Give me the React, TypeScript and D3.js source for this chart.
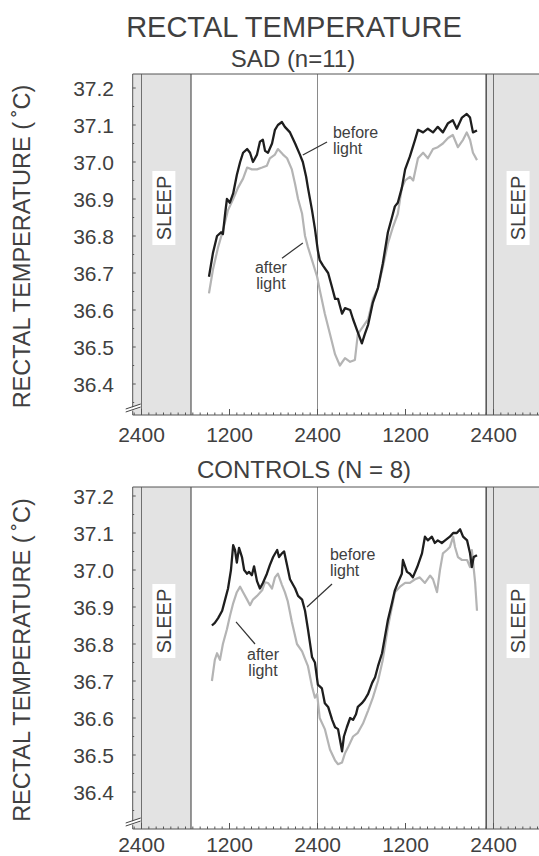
import React from "react";
import * as d3 from "d3";

// ---- data (hour of recording from first midnight, rectal temperature °C) ----
const sadBefore: [number, number][] = [
  [9.2, 36.69], [9.75, 36.755], [10.3, 36.8], [10.85, 36.81], [11.1, 36.805], [11.4, 36.86], [11.65, 36.9],
  [12.05, 36.89], [12.5, 36.915], [13.0, 36.965], [13.45, 37.0], [13.85, 37.025], [14.4, 37.035], [14.8, 37.025],
  [15.2, 37.0], [15.75, 37.02], [16.15, 37.055], [16.55, 37.06], [16.85, 37.03], [17.25, 37.025], [17.8, 37.05],
  [18.2, 37.087], [18.6, 37.1], [19.15, 37.108], [19.55, 37.095], [20.25, 37.08], [20.95, 37.05], [21.6, 37.02],
  [22.0, 37.0], [22.45, 36.96], [22.7, 36.93], [23.25, 36.87], [23.65, 36.82], [24.05, 36.76], [24.3, 36.735],
  [24.75, 36.72], [25.45, 36.7], [26.0, 36.66], [26.4, 36.63], [26.8, 36.63], [27.35, 36.59], [27.75, 36.605],
  [28.45, 36.6], [28.85, 36.575], [29.4, 36.545], [30.05, 36.51], [30.45, 36.535], [30.9, 36.56], [31.55, 36.62],
  [32.25, 36.66], [32.9, 36.725], [33.6, 36.81], [34.15, 36.85], [34.55, 36.88], [34.95, 36.89], [35.5, 36.93],
  [35.95, 36.98], [36.6, 37.015], [37.3, 37.06], [37.7, 37.087], [38.4, 37.08], [39.05, 37.09], [39.75, 37.08],
  [40.4, 37.095], [41.1, 37.08], [41.8, 37.105], [42.45, 37.113], [43.0, 37.09], [43.7, 37.12], [44.35, 37.13],
  [44.8, 37.12], [45.2, 37.08], [45.75, 37.085],
];
const sadAfter: [number, number][] = [
  [9.2, 36.645], [9.75, 36.71], [10.45, 36.77], [11.1, 36.815], [11.8, 36.87], [12.5, 36.9], [13.15, 36.93],
  [13.85, 36.955], [14.4, 36.985], [15.05, 36.98], [15.75, 36.98], [16.45, 36.985], [17.1, 36.99], [17.5, 37.01],
  [18.2, 37.02], [18.6, 37.035], [19.3, 37.02], [19.85, 37.01], [20.5, 36.98], [20.95, 36.94], [21.35, 36.9],
  [21.9, 36.86], [22.3, 36.8], [22.7, 36.77], [23.25, 36.735], [23.95, 36.69], [24.3, 36.655], [25.0, 36.59],
  [25.7, 36.535], [26.4, 36.48], [27.05, 36.45], [27.75, 36.47], [28.45, 36.46], [29.1, 36.465], [29.5, 36.535],
  [30.2, 36.555], [30.9, 36.575], [31.55, 36.63], [32.25, 36.66], [32.9, 36.715], [33.6, 36.78], [34.3, 36.825],
  [34.95, 36.86], [35.5, 36.93], [35.95, 36.95], [36.6, 36.96], [37.05, 36.95], [37.7, 37.01], [38.4, 37.025],
  [39.05, 37.01], [39.75, 37.035], [40.4, 37.04], [41.1, 37.05], [41.8, 37.065], [42.45, 37.073], [43.15, 37.04],
  [43.85, 37.06], [44.35, 37.08], [44.8, 37.06], [45.2, 37.025], [45.75, 37.005],
];
const ctlBefore: [number, number][] = [
  [9.6, 36.85], [10.0, 36.857], [10.45, 36.87], [11.0, 36.89], [11.4, 36.92], [11.8, 36.95], [12.2, 37.0],
  [12.5, 37.067], [12.75, 37.054], [13.0, 37.02], [13.3, 37.06], [13.7, 37.035], [14.0, 37.0], [14.4, 36.99],
  [14.65, 36.995], [15.05, 36.986], [15.35, 37.01], [15.75, 36.97], [16.15, 36.95], [16.55, 36.965], [17.1, 36.99],
  [17.5, 37.013], [17.95, 37.035], [18.5, 37.054], [18.75, 37.035], [19.15, 37.045], [19.45, 37.05], [19.85, 37.013],
  [20.25, 36.975], [20.95, 36.95], [21.35, 36.93], [21.9, 36.92], [22.3, 36.89], [22.7, 36.84], [23.25, 36.765],
  [23.65, 36.75], [24.05, 36.69], [24.6, 36.68], [25.0, 36.64], [25.45, 36.63], [26.0, 36.595], [26.4, 36.575],
  [26.8, 36.57], [27.35, 36.51], [27.6, 36.55], [28.0, 36.575], [28.45, 36.6], [28.85, 36.595], [29.25, 36.61],
  [29.5, 36.63], [30.05, 36.64], [30.45, 36.65], [30.9, 36.665], [31.45, 36.695], [31.85, 36.71], [32.25, 36.74],
  [32.8, 36.775], [33.2, 36.82], [33.6, 36.865], [34.15, 36.91], [34.55, 36.945], [34.95, 36.965], [35.5, 36.99],
  [35.65, 37.027], [36.2, 36.995], [36.6, 36.99], [37.0, 36.98], [37.6, 37.008], [38.25, 37.045], [38.65, 37.09],
  [39.05, 37.08], [39.6, 37.09], [40.0, 37.073], [40.4, 37.08], [40.95, 37.073], [41.4, 37.08], [42.05, 37.09],
  [42.5, 37.1], [43.0, 37.1], [43.45, 37.11], [43.85, 37.09], [44.4, 37.08], [44.8, 37.045], [45.05, 37.008],
  [45.3, 37.035], [45.75, 37.04],
];
const ctlAfter: [number, number][] = [
  [9.6, 36.7], [10.0, 36.757], [10.3, 36.775], [10.7, 36.757], [11.1, 36.8], [11.65, 36.84], [12.05, 36.875],
  [12.5, 36.91], [13.0, 36.94], [13.45, 36.955], [13.85, 36.94], [14.4, 36.92], [14.8, 36.905], [15.2, 36.92],
  [15.75, 36.93], [16.45, 36.945], [16.85, 36.967], [17.25, 36.965], [17.8, 36.95], [18.2, 36.98], [18.6, 36.99],
  [19.15, 36.96], [19.55, 36.94], [19.95, 36.915], [20.5, 36.86], [21.2, 36.8], [21.9, 36.78], [22.3, 36.76],
  [22.7, 36.74], [23.25, 36.685], [23.65, 36.655], [23.95, 36.665], [24.3, 36.6], [25.0, 36.57], [25.7, 36.515],
  [26.4, 36.485], [26.8, 36.475], [27.35, 36.48], [27.75, 36.505], [28.15, 36.52], [28.85, 36.55], [29.5, 36.56],
  [30.2, 36.585], [30.9, 36.62], [31.55, 36.655], [32.25, 36.7], [32.9, 36.757], [33.6, 36.845], [34.15, 36.9],
  [34.55, 36.94], [35.25, 36.955], [35.95, 36.965], [36.6, 36.965], [37.3, 36.975], [37.95, 36.98], [38.65, 36.965],
  [39.35, 36.985], [39.75, 36.975], [40.3, 36.94], [40.7, 37.0], [41.1, 37.045], [41.65, 37.054], [42.05, 37.062],
  [42.5, 37.09], [42.75, 37.062], [43.15, 37.035], [43.7, 37.027], [44.4, 37.027], [44.8, 37.008], [45.05, 37.054],
  [45.5, 36.965], [45.75, 36.89],
];

const yTicks = [36.4, 36.5, 36.6, 36.7, 36.8, 36.9, 37.0, 37.1, 37.2];
const xTickHours = [0, 12, 24, 36, 48];
const xTickLabels = ["2400", "1200", "2400", "1200", "2400"];
const sleepPeriods: [number, number][] = [[-1.2, 6.75], [47, 60]];
const mainTitle = "RECTAL TEMPERATURE";
const yLabel = "RECTAL TEMPERATURE (\u2009\u02DAC)";

const FONT = "'Liberation Sans', Arial, Helvetica, sans-serif";
const TXT = "#404040";

type Ann = { text: [string, string]; at: [number, number]; anchor: string; line: [number, number, number, number] };

const panels = [
  {
    title: "SAD (n=11)", titleX: 293, titleY: 67,
    top: 74, bottom: 415, yTop: 88, yBottom: 384, labelGap: 27,
    before: sadBefore, after: sadAfter,
    anns: [
      { text: ["before", "light"], at: [26.1, 37.065], anchor: "start", line: [22.0, 37.019, 25.3, 37.054] },
      { text: ["after", "light"], at: [17.65, 36.7], anchor: "middle", line: [19.16, 36.74, 22.0, 36.781] },
    ] as Ann[],
  },
  {
    title: "CONTROLS (N = 8)", titleX: 304, titleY: 478,
    top: 487, bottom: 829, yTop: 496, yBottom: 792, labelGap: 23,
    before: ctlBefore, after: ctlAfter,
    anns: [
      { text: ["before", "light"], at: [25.7, 37.027], anchor: "start", line: [22.57, 36.9, 25.98, 36.962] },
      { text: ["after", "light"], at: [16.57, 36.757], anchor: "middle", line: [12.89, 36.86, 15.48, 36.8] },
    ] as Ann[],
  },
];

const W = 539;
const H = 856;
const x = d3.scaleLinear().domain([0, 48]).range([141.5, 493.5]);
const FRAME_L_HOUR = -1.2;

function Panel({ p }: { p: (typeof panels)[number] }) {
  const y = d3.scaleLinear().domain([36.4, 37.2]).range([p.yBottom, p.yTop]);
  const left = x(FRAME_L_HOUR);
  const right = W + 20;
  const line = d3
    .line<[number, number]>()
    .x((d) => x(d[0]))
    .y((d) => y(d[1]))
    .curve(d3.curveLinear);
  const hours = d3.range(-1, 56, 1);
  const minorY = d3.range(36.35, 37.23, 0.05);
  const midY = (p.top + p.bottom) / 2 + 2;
  const sleepY = p.top + 134;
  return (
    <g>
      {sleepPeriods.map((s, i) => (
        <rect key={i} x={Math.max(left, x(s[0]))} y={p.top} width={Math.min(right, x(s[1])) - Math.max(left, x(s[0]))}
          height={p.bottom - p.top} fill="#e3e3e3" />
      ))}
      <line x1={x(sleepPeriods[0][1])} x2={x(sleepPeriods[0][1])} y1={p.top} y2={p.bottom} stroke="#555" strokeWidth={1.2} />
      <line x1={x(sleepPeriods[1][0])} x2={x(sleepPeriods[1][0])} y1={p.top} y2={p.bottom} stroke="#444" strokeWidth={1.4} />
      {[0, 24, 48].map((h) => (
        <line key={h} x1={x(h)} x2={x(h)} y1={p.top} y2={p.bottom} stroke={h === 24 ? "#8a8a8a" : "#707070"} strokeWidth={1} />
      ))}
      <line x1={left} x2={right} y1={p.top} y2={p.top} stroke="#555" strokeWidth={1} />
      <line x1={left} x2={left} y1={p.top} y2={p.bottom} stroke="#555" strokeWidth={1} />
      <line x1={left} x2={right} y1={p.bottom} y2={p.bottom} stroke="#555" strokeWidth={1.2} />
      {hours.map((h) => (
        <line key={h} x1={x(h)} x2={x(h)} y1={p.bottom} y2={p.bottom - (h % 12 === 0 ? 6 : 2.5)} stroke="#555" strokeWidth={1} />
      ))}
      {minorY.map((v, i) => (
        <line key={i} x1={left} x2={left + (i % 2 === 1 ? 3 : 1.5)} y1={y(v)} y2={y(v)} stroke="#555" strokeWidth={1} />
      ))}
      <line x1={left - 6} x2={left + 8} y1={p.bottom - 4} y2={p.bottom - 9} stroke="#fff" strokeWidth={3} />
      <line x1={left - 7} x2={left + 8} y1={p.bottom - 3} y2={p.bottom - 8} stroke="#444" strokeWidth={1} />
      <line x1={left - 7} x2={left + 8} y1={p.bottom - 6} y2={p.bottom - 11} stroke="#444" strokeWidth={1} />
      {yTicks.map((v) => (
        <text key={v} x={114} y={y(v)} dy="0.36em" textAnchor="end" fontSize={21} fill={TXT} fontFamily={FONT}>
          {v.toFixed(1)}
        </text>
      ))}
      {xTickHours.map((h, i) => (
        <text key={h} x={x(h)} y={p.bottom + p.labelGap} textAnchor="middle" fontSize={21} fill={TXT} fontFamily={FONT}>
          {xTickLabels[i]}
        </text>
      ))}
      <text transform={`translate(30,${midY}) rotate(-90)`} textAnchor="middle" fontSize={23.5} fill={TXT} fontFamily={FONT}>
        {yLabel}
      </text>
      {[3.05, 51.35].map((h) => (
        <g key={h} transform={`translate(${x(h)},${sleepY}) rotate(-90)`}>
          <rect x={-37} y={-11.5} width={74} height={23} fill="#fff" />
          <text x={0} y={0} dy="0.36em" textAnchor="middle" fontSize={20} fill={TXT} fontFamily={FONT}>SLEEP</text>
        </g>
      ))}
      <path d={line(p.after) || ""} fill="none" stroke="#b4b4b4" strokeWidth={2.2} strokeLinejoin="round" />
      <path d={line(p.before) || ""} fill="none" stroke="#1e1e1e" strokeWidth={2.3} strokeLinejoin="round" />
      {p.anns.map((a, i) => (
        <g key={i}>
          <line x1={x(a.line[0])} y1={y(a.line[1])} x2={x(a.line[2])} y2={y(a.line[3])} stroke="#333" strokeWidth={1.2} />
          <text x={x(a.at[0])} y={y(a.at[1])} textAnchor={a.anchor} fontSize={16} fill={TXT} fontFamily={FONT}>
            <tspan x={x(a.at[0])}>{a.text[0]}</tspan>
            <tspan x={x(a.at[0])} dy={16}>{a.text[1]}</tspan>
          </text>
        </g>
      ))}
      <text x={p.titleX} y={p.titleY} textAnchor="middle" fontSize={24} fill={TXT} fontFamily={FONT}>{p.title}</text>
    </g>
  );
}

export default function App() {
  return (
    <svg width={W} height={H} viewBox={`0 0 ${W} ${H}`}
      style={{ position: "absolute", left: 0, top: 0, background: "#fff" }}>
      <rect x={0} y={0} width={W} height={H} fill="#fff" />
      <text x={294} y={37} textAnchor="middle" fontSize={29} fill={TXT} fontFamily={FONT}>{mainTitle}</text>
      {panels.map((p, i) => (
        <Panel key={i} p={p} />
      ))}
    </svg>
  );
}
